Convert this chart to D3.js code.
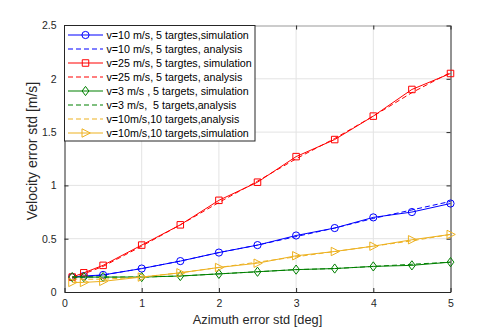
<!DOCTYPE html>
<html><head><meta charset="utf-8">
<script src="https://cdn.jsdelivr.net/npm/d3@7"></script>
<style>body{margin:0;background:#fff}svg{display:block;font-family:"Liberation Sans",Arial,sans-serif}</style>
</head><body><svg id="c" width="498" height="330"></svg>
<script>
const xs = [0.1, 0.25, 0.5, 1, 1.5, 2, 2.5, 3, 3.5, 4, 4.5, 5];
const v10Sim = [0.14, 0.15, 0.16, 0.22, 0.29, 0.37, 0.44, 0.53, 0.60, 0.70, 0.75, 0.83];
const v10Ana = [0.13, 0.14, 0.16, 0.22, 0.29, 0.37, 0.44, 0.52, 0.60, 0.69, 0.77, 0.85];
const v25Sim = [0.14, 0.18, 0.25, 0.44, 0.63, 0.86, 1.03, 1.27, 1.43, 1.65, 1.90, 2.05];
const v25Ana = [0.13, 0.17, 0.24, 0.43, 0.63, 0.84, 1.04, 1.25, 1.44, 1.65, 1.87, 2.06];
const v3Sim = [0.14, 0.14, 0.14, 0.14, 0.15, 0.17, 0.19, 0.21, 0.22, 0.24, 0.25, 0.28];
const v3Ana = [0.14, 0.14, 0.14, 0.14, 0.15, 0.17, 0.19, 0.21, 0.22, 0.24, 0.26, 0.28];
const v10t10Ana = [0.12, 0.12, 0.12, 0.14, 0.18, 0.23, 0.28, 0.33, 0.38, 0.43, 0.48, 0.54];
const v10t10Sim = [0.09, 0.09, 0.10, 0.14, 0.18, 0.23, 0.27, 0.34, 0.38, 0.43, 0.49, 0.54];
const legendLabels = [
  "v=10 m/s, 5 targtes,simulation",
  "v=10 m/s, 5 targtes, analysis",
  "v=25 m/s, 5 targtes, simulation",
  "v=25 m/s, 5 targets, analysis",
  "v=3 m/s , 5 targets, simulation",
  "v=3 m/s,  5 targets,analysis",
  "v=10m/s,10 targets,analysis",
  "v=10m/s,10 targets,simulation"
];
const xTicks = [0, 1, 2, 3, 4, 5];
const yTicks = [0, 0.5, 1, 1.5, 2, 2.5];

const BLUE = "#0000ff", RED = "#ff0000", GREEN = "#008000", YEL = "#EDB120";
const series = [
  {y: v10Sim, c: BLUE, dash: null, m: "circle"},
  {y: v10Ana, c: BLUE, dash: "5,3", m: null},
  {y: v25Sim, c: RED, dash: null, m: "square"},
  {y: v25Ana, c: RED, dash: "5,3", m: null},
  {y: v3Sim, c: GREEN, dash: null, m: "diamond"},
  {y: v3Ana, c: GREEN, dash: "5,3", m: null},
  {y: v10t10Ana, c: YEL, dash: "5,3", m: null},
  {y: v10t10Sim, c: YEL, dash: null, m: "tri"}
];

const L = 64.5, R = 450.5, T = 25.5, B = 292;
const svg = d3.select("#c");
const x = d3.scaleLinear().domain([0, 5]).range([L, R]);
const y = d3.scaleLinear().domain([0, 2.5]).range([B, T]);

// grid
const g = svg.append("g");
g.selectAll(".gx").data(xTicks.slice(1, -1)).join("line")
  .attr("x1", d => x(d)).attr("x2", d => x(d)).attr("y1", T).attr("y2", B)
  .attr("stroke", "#e3e3e3").attr("stroke-width", 1);
g.selectAll(".gy").data(yTicks.slice(1, -1)).join("line")
  .attr("y1", d => y(d)).attr("y2", d => y(d)).attr("x1", L).attr("x2", R)
  .attr("stroke", "#e3e3e3").attr("stroke-width", 1);

// axes
const ax = svg.append("g").attr("transform", `translate(0,${B})`)
  .call(d3.axisBottom(x).tickValues(xTicks).tickFormat(d3.format("d")).tickSizeInner(-4).tickSizeOuter(0).tickPadding(8));
const ay = svg.append("g").attr("transform", `translate(${L},0)`)
  .call(d3.axisLeft(y).tickValues(yTicks).tickFormat(d => String(d)).tickSizeInner(-4).tickSizeOuter(0).tickPadding(8));
const axT = svg.append("g").attr("transform", `translate(0,${T})`)
  .call(d3.axisTop(x).tickValues(xTicks).tickFormat("").tickSizeInner(-4).tickSizeOuter(0));
const ayR = svg.append("g").attr("transform", `translate(${R},0)`)
  .call(d3.axisRight(y).tickValues(yTicks).tickFormat("").tickSizeInner(-4).tickSizeOuter(0));
[ax, ay, axT, ayR].forEach(a => {
  a.selectAll("path").attr("stroke", "#262626").attr("stroke-width", 1);
  a.selectAll("line").attr("stroke", "#262626");
  a.selectAll("text").attr("fill", "#262626").attr("font-size", 10.5).attr("font-family", "Liberation Sans, Arial, sans-serif");
});
axT.select("path").attr("stroke", "#999");

// lines
const line = d3.line().x((d, i) => x(xs[i])).y(d => y(d));
const symbols = {
  circle: () => d3.symbol().type(d3.symbolCircle).size(Math.PI * 3.6 * 3.6)(),
  square: () => d3.symbol().type(d3.symbolSquare).size(6.5 * 6.5)(),
  diamond: () => "M0,-4.6L3.4,0L0,4.6L-3.4,0Z",
  tri: () => "M-3.5,-4.2L4.8,0L-3.5,4.2Z"
};
series.forEach(s => {
  const p = svg.append("path").datum(s.y).attr("d", line).attr("fill", "none")
    .style("stroke", s.c).attr("stroke-width", 1);
  if (s.dash) p.style("stroke-dasharray", s.dash);
  if (s.m) {
    svg.selectAll(null).data(s.y).join("path")
      .attr("transform", (d, i) => `translate(${x(xs[i])},${y(d)})`)
      .attr("d", symbols[s.m]()).attr("fill", "none").style("stroke", s.c).attr("stroke-width", 1);
  }
});

// axis labels
svg.append("text").attr("x", (L + R) / 2).attr("y", 324).attr("text-anchor", "middle")
  .attr("font-size", 12.8).attr("fill", "#262626").text("Azimuth error std [deg]");
svg.append("text").attr("transform", `translate(37,151) rotate(-90)`).attr("text-anchor", "middle")
  .attr("font-size", 14).attr("fill", "#262626").text("Velocity error std [m/s]");

// legend
const lg = svg.append("g");
lg.append("rect").attr("x", 64.5).attr("y", 25.5).attr("width", 190.5).attr("height", 115.5)
  .attr("fill", "#fff").attr("stroke", "#262626").attr("stroke-width", 1);
series.forEach((s, i) => {
  const yy = 35 + i * 14;
  const ln = lg.append("path").attr("d", `M68,${yy}H103`).attr("fill", "none")
    .style("stroke", s.c).attr("stroke-width", 1.1);
  if (s.dash) ln.style("stroke-dasharray", s.dash);
  if (s.m) lg.append("path").attr("transform", `translate(85.5,${yy})`).attr("d", symbols[s.m]())
    .attr("fill", "none").style("stroke", s.c).attr("stroke-width", 1);
  lg.append("text").attr("x", 106.5).attr("y", yy + 3.8).attr("font-size", 10.7).attr("fill", "#000")
    .style("white-space", "pre").text(legendLabels[i]);
});
</script></body></html>
